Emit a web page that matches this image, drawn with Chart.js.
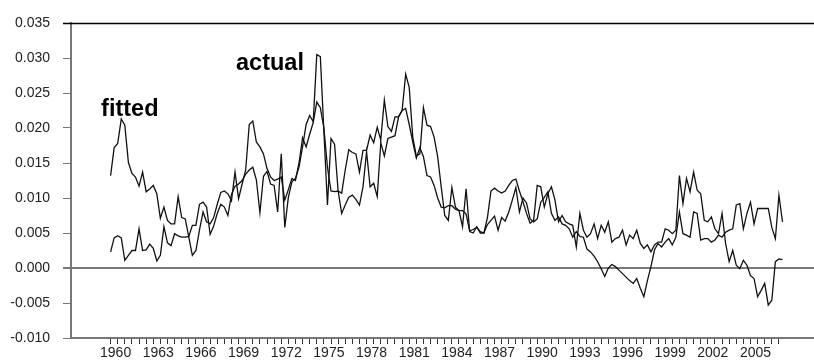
<!DOCTYPE html>
<html>
<head>
<meta charset="utf-8">
<script src="https://cdn.jsdelivr.net/npm/chart.js@4.4.1/dist/chart.umd.min.js"></script>
<style>
  html, body { margin: 0; padding: 0; background: #ffffff; }
  #wrap { width: 814px; height: 364px; }
</style>
</head>
<body>
<div id="wrap"><canvas id="chart" width="814" height="364"></canvas></div>
<script>
// Quarterly series, first observation 1960Q1, last 2007Q2
const startYear = 1960;

const fitted = [
  0.0132, 0.0172, 0.0178, 0.0213, 0.0204, 0.0151, 0.0135, 0.0130, 0.0117, 0.0137,
  0.0109, 0.0113, 0.0118, 0.0106, 0.0071, 0.0087, 0.0068, 0.0063, 0.0063, 0.0102,
  0.0072, 0.0070, 0.0044, 0.0018, 0.0025, 0.0054, 0.0080, 0.0066, 0.0063, 0.0072,
  0.0091, 0.0108, 0.0110, 0.0106, 0.0096, 0.0137, 0.0099, 0.0120, 0.0140, 0.0205,
  0.0210, 0.0180, 0.0173, 0.0163, 0.0142, 0.0130, 0.0125, 0.0127, 0.0130, 0.0097,
  0.0112, 0.0128, 0.0125, 0.0150, 0.0186, 0.0173, 0.0191, 0.0208, 0.0237, 0.0229,
  0.0200, 0.0144, 0.0110, 0.0109, 0.0110, 0.0078, 0.0090, 0.0101, 0.0104, 0.0098,
  0.0090, 0.0116, 0.0166, 0.0116, 0.0121, 0.0102, 0.0179, 0.0160, 0.0185, 0.0187,
  0.0189, 0.0216, 0.0225, 0.0228, 0.0205, 0.0180, 0.0157, 0.0172, 0.0159, 0.0132,
  0.0130, 0.0118, 0.0100, 0.0087, 0.0086, 0.0089, 0.0089, 0.0084, 0.0082, 0.0082,
  0.0077, 0.0053, 0.0055, 0.0058, 0.0052, 0.0050, 0.0062, 0.0068, 0.0074, 0.0054,
  0.0072, 0.0067, 0.0080, 0.0097, 0.0115, 0.0080, 0.0100, 0.0093, 0.0070, 0.0066,
  0.0070, 0.0094, 0.0101, 0.0109, 0.0078, 0.0068, 0.0073, 0.0063, 0.0061, 0.0056,
  0.0044, 0.0052, 0.0045, 0.0044, 0.0027, 0.0023, 0.0017, 0.0009, -0.0001, -0.0012,
  0.0000, 0.0005, 0.0002, -0.0003, -0.0008, -0.0013, -0.0018, -0.0022, -0.0015, -0.0029,
  -0.0041, -0.0018, 0.0002, 0.0026, 0.0035, 0.0030, 0.0037, 0.0042, 0.0033, 0.0044,
  0.0080, 0.0049, 0.0047, 0.0044, 0.0080, 0.0078, 0.0040, 0.0042, 0.0042, 0.0037,
  0.0040, 0.0047, 0.0044, 0.0051, 0.0054, 0.0056, 0.0090, 0.0092, 0.0056, 0.0078,
  0.0094, 0.0063, 0.0085, 0.0085, 0.0085, 0.0085, 0.0058, 0.0042, 0.0104, 0.0066
];

const actual = [
  0.0023, 0.0043, 0.0046, 0.0043, 0.0011, 0.0018, 0.0025, 0.0025, 0.0056, 0.0025,
  0.0026, 0.0034, 0.0028, 0.0010, 0.0018, 0.0059, 0.0036, 0.0032, 0.0049, 0.0046,
  0.0044, 0.0044, 0.0045, 0.0061, 0.0061, 0.0091, 0.0094, 0.0087, 0.0048, 0.0060,
  0.0078, 0.0091, 0.0087, 0.0075, 0.0105, 0.0117, 0.0120, 0.0125, 0.0134, 0.0140,
  0.0144, 0.0126, 0.0079, 0.0131, 0.0138, 0.0120, 0.0118, 0.0080, 0.0163, 0.0058,
  0.0101, 0.0123, 0.0128, 0.0144, 0.0173, 0.0205, 0.0218, 0.0209, 0.0305, 0.0302,
  0.0195, 0.0090, 0.0185, 0.0177, 0.0110, 0.0107, 0.0140, 0.0169, 0.0165, 0.0163,
  0.0137, 0.0168, 0.0168, 0.0190, 0.0179, 0.0201, 0.0183, 0.0240, 0.0202, 0.0195,
  0.0216, 0.0216, 0.0225, 0.0277, 0.0258, 0.0187, 0.0160, 0.0163, 0.0229, 0.0204,
  0.0202, 0.0187, 0.0159, 0.0116, 0.0075, 0.0068, 0.0115, 0.0087, 0.0082, 0.0059,
  0.0113, 0.0052, 0.0050, 0.0059, 0.0050, 0.0050, 0.0072, 0.0110, 0.0114, 0.0110,
  0.0107, 0.0110, 0.0118, 0.0125, 0.0127, 0.0110, 0.0095, 0.0078, 0.0064, 0.0068,
  0.0118, 0.0116, 0.0087, 0.0106, 0.0116, 0.0097, 0.0066, 0.0075, 0.0066, 0.0063,
  0.0061, 0.0030, 0.0078, 0.0054, 0.0044, 0.0049, 0.0063, 0.0042, 0.0061, 0.0051,
  0.0066, 0.0037, 0.0042, 0.0044, 0.0054, 0.0033, 0.0047, 0.0042, 0.0054, 0.0035,
  0.0028, 0.0033, 0.0023, 0.0033, 0.0037, 0.0037, 0.0056, 0.0054, 0.0049, 0.0054,
  0.0132, 0.0092, 0.0128, 0.0109, 0.0137, 0.0111, 0.0106, 0.0068, 0.0066, 0.0073,
  0.0056, 0.0049, 0.0078, 0.0035, 0.0009, 0.0025, 0.0004, -0.0001, 0.0011, 0.0004,
  -0.0011, -0.0015, -0.0041, -0.0032, -0.0022, -0.0053, -0.0046, 0.0009, 0.0013, 0.0012
];

// Axis settings
const yMin = -0.010, yMax = 0.035, yStep = 0.005;
const xMin = 1957.215, xMax = 2009.466;
const labeledYears = [1960, 1963, 1966, 1969, 1972, 1975, 1978, 1981, 1984, 1987,
                      1990, 1993, 1996, 1999, 2002, 2005];
const firstTickYear = 1960, lastTickYear = 2007, tickStep = 0.5;

// Series names and where their names are written (data coordinates)
const seriesNotes = [
  { text: 'fitted', x: 1959.33, y: 0.02167 },
  { text: 'actual', x: 1968.82, y: 0.02824 }
];

const toPoints = arr => arr.map((v, i) => ({ x: startYear + i / 4, y: v }));

const fontFamily = '"Liberation Sans", Arial, Helvetica, sans-serif';

const frameAndNotes = {
  id: 'frameAndNotes',
  afterDraw(chart) {
    const { ctx, chartArea, scales } = chart;
    ctx.save();
    // top rule of the plot frame
    ctx.strokeStyle = '#000';
    ctx.lineWidth = 1.3;
    ctx.beginPath();
    ctx.moveTo(chartArea.left - 8, chartArea.top + 0.5);
    ctx.lineTo(chartArea.right, chartArea.top + 0.5);
    ctx.stroke();
    // series names
    ctx.fillStyle = '#000';
    ctx.font = 'bold 23.5px ' + fontFamily;
    ctx.textAlign = 'left';
    ctx.textBaseline = 'alphabetic';
    seriesNotes.forEach(n => {
      ctx.fillText(n.text, scales.x.getPixelForValue(n.x), scales.y.getPixelForValue(n.y));
    });
    ctx.restore();
  }
};

const lineStyle = {
  borderColor: '#111',
  borderWidth: 1.3,
  pointRadius: 0,
  tension: 0,
  fill: false
};

new Chart(document.getElementById('chart'), {
  type: 'line',
  data: {
    datasets: [
      Object.assign({ label: 'fitted', data: toPoints(fitted) }, lineStyle),
      Object.assign({ label: 'actual', data: toPoints(actual) }, lineStyle)
    ]
  },
  options: {
    responsive: false,
    animation: false,
    devicePixelRatio: 1,
    layout: { padding: { top: 23, right: 0, left: 0, bottom: 0 } },
    plugins: { legend: { display: false }, tooltip: { enabled: false } },
    scales: {
      x: {
        type: 'linear',
        min: xMin,
        max: xMax,
        afterBuildTicks(scale) {
          const t = [];
          for (let v = firstTickYear; v <= lastTickYear + 1e-9; v += tickStep) t.push({ value: v });
          scale.ticks = t;
        },
        afterFit(scale) { scale.height = 26; },
        ticks: {
          autoSkip: false,
          maxRotation: 0,
          minRotation: 0,
          labelOffset: 5,
          padding: 1,
          color: '#222',
          font: { family: fontFamily, size: 14 },
          callback: v => (labeledYears.includes(v) ? String(v) : '')
        },
        grid: {
          drawOnChartArea: false,
          drawTicks: true,
          tickLength: 6,
          tickColor: '#333',
          tickWidth: 1
        },
        border: { display: true, color: '#777', width: 2 }
      },
      y: {
        min: yMin,
        max: yMax,
        afterFit(scale) { scale.width = 71; },
        ticks: {
          stepSize: yStep,
          padding: 13,
          color: '#222',
          font: { family: fontFamily, size: 14 },
          callback: v => Number(v).toFixed(3)
        },
        grid: {
          drawOnChartArea: true,
          drawTicks: true,
          tickLength: 8,
          tickColor: '#777',
          color: c => (c.tick && Math.abs(c.tick.value) < 1e-9 ? '#7a7a7a' : 'rgba(0,0,0,0)'),
          lineWidth: c => (c.tick && Math.abs(c.tick.value) < 1e-9 ? 2 : 1)
        },
        border: { display: true, color: '#777', width: 2 }
      }
    }
  },
  plugins: [frameAndNotes]
});
</script>
</body>
</html>
